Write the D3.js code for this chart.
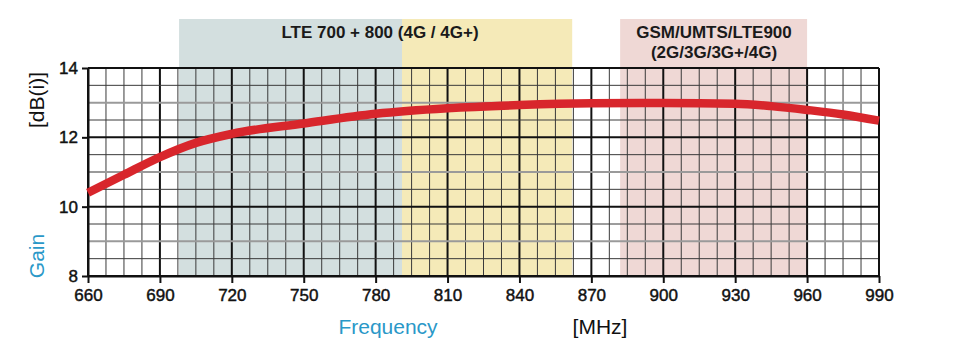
<!DOCTYPE html>
<html>
<head>
<meta charset="utf-8">
<script src="https://cdn.jsdelivr.net/npm/d3@7"></script>
<style>
  body { margin: 0; background: #fff; }
  svg text { font-family: "Liberation Sans", Arial, sans-serif; }
</style>
</head>
<body>
<div id="chart"></div>
<script>
// curve
const frequency = [660, 675, 690, 705, 720, 750, 780, 810, 840, 870, 900, 930, 945, 960, 975, 990]
const gain = [10.4, 10.92, 11.43, 11.84, 12.1, 12.4, 12.68, 12.84, 12.93, 12.98, 12.99, 12.97, 12.9, 12.79, 12.66, 12.48]

const x_ticks = [660, 690, 720, 750, 780, 810, 840, 870, 900, 930, 960, 990]
const y_ticks = [8, 10, 12, 14]

const band_names = ["lte", "lte800", "gsm"]
const band_from = [698, 791, 882]
const band_to = [791, 862, 960]
const band_colors = ["#d3dfdf", "#f5eab8", "#efd8d5"]

let margin = {top: 68, right: 90, bottom: 76, left: 88}
let width = 969 - margin.left - margin.right
let height = 352 - margin.top - margin.bottom

let x = d3.scaleLinear().domain([660, 990]).range([0, width])
let y = d3.scaleLinear().domain([8, 14]).range([height, 0])

let svg = d3.select("#chart").append("svg")
    .attr("width", 969)
    .attr("height", 352)
    .append("g")
    .attr("transform", "translate(" + margin.left + "," + margin.top + ")")

// coloured frequency bands, they reach above the plot for the titles
svg.append("g").selectAll("rect")
    .data(band_names)
    .enter().append("rect")
    .attr("x", (d, i) => x(band_from[i]))
    .attr("width", (d, i) => x(band_to[i]) - x(band_from[i]))
    .attr("y", -49)
    .attr("height", height + 49)
    .attr("fill", (d, i) => band_colors[i])

function title(tx, ty, label) {
    svg.append("text")
        .attr("x", tx).attr("y", ty)
        .attr("text-anchor", "middle")
        .style("font-size", "17px").style("font-weight", "bold").attr("fill", "#1a1a1a")
        .text(label)
}
title(292, -30, "LTE 700 + 800 (4G / 4G+)")
title(626, -30, "GSM/UMTS/LTE900")
title(626, -10, "(2G/3G/3G+/4G)")

// grid: minor every 7.5 MHz and 0.5 dB
let x_minor = d3.range(660, 990.1, 7.5)
let y_minor = d3.range(8, 14.01, 0.5)

svg.append("g").selectAll("line")
    .data(x_minor)
    .enter().append("line")
    .attr("x1", d => x(d)).attr("x2", d => x(d))
    .attr("y1", 0).attr("y2", height)
    .attr("stroke", d => (d - 660) % 30 === 0 ? "#111" : "#3a3a3a")
    .attr("stroke-width", d => (d - 660) % 30 === 0 ? 2 : 1)

svg.append("g").selectAll("line")
    .data(y_minor)
    .enter().append("line")
    .attr("x1", 0).attr("x2", width)
    .attr("y1", d => y(d)).attr("y2", d => y(d))
    .attr("stroke", function (d) {
        if (d % 2 === 0) return "#111"
        if (d % 1 === 0) return "#9a9a9a"
        return "#3a3a3a"
    })
    .attr("stroke-width", d => d % 1 === 0 ? 2 : 1)

// axes
let x_axis = svg.append("g")
    .attr("transform", "translate(0," + height + ")")
    .call(d3.axisBottom(x).tickValues(x_ticks).tickFormat(d3.format("d"))
        .tickSize(7).tickSizeOuter(0).tickPadding(6))
let y_axis = svg.append("g")
    .call(d3.axisLeft(y).tickValues(y_ticks).tickFormat(d3.format("d"))
        .tickSize(6).tickSizeOuter(0).tickPadding(4))

for (let axis of [x_axis, y_axis]) {
    axis.select(".domain").attr("stroke", "#111").attr("stroke-width", 2)
    axis.selectAll(".tick line").attr("stroke", "#111").attr("stroke-width", 2)
    // slightly heavier digits, like the medium weight in the original
    axis.selectAll(".tick text")
        .style("font-size", "17px")
        .style("font-family", "'Liberation Sans', Arial, sans-serif")
        .attr("fill", "#111")
        .attr("stroke", "#111")
        .attr("stroke-width", 0.45)
}

// right border of the plot
svg.append("line")
    .attr("x1", width).attr("x2", width)
    .attr("y1", 0).attr("y2", height)
    .attr("stroke", "#111").attr("stroke-width", 2)

// gain curve
let line = d3.line()
    .x((d, i) => x(frequency[i]))
    .y((d, i) => y(gain[i]))
    .curve(d3.curveMonotoneX)

svg.append("path")
    .datum(gain)
    .attr("d", line)
    .attr("fill", "none")
    .attr("stroke", "#d8262c")
    .attr("stroke-width", 8.5)

// axis titles
function axis_title(transform, label, colour) {
    svg.append("text")
        .attr("transform", transform)
        .attr("text-anchor", "middle")
        .style("font-size", "21px").attr("fill", colour)
        .text(label)
}
axis_title("translate(300," + (height + 58) + ")", "Frequency", "#2a98c8")
axis_title("translate(512," + (height + 58) + ")", "[MHz]", "#111")
axis_title("translate(-44,32) rotate(-90)", "[dB(i)]", "#111")
axis_title("translate(-44,188) rotate(-90)", "Gain", "#2a98c8")
</script>
</body>
</html>
